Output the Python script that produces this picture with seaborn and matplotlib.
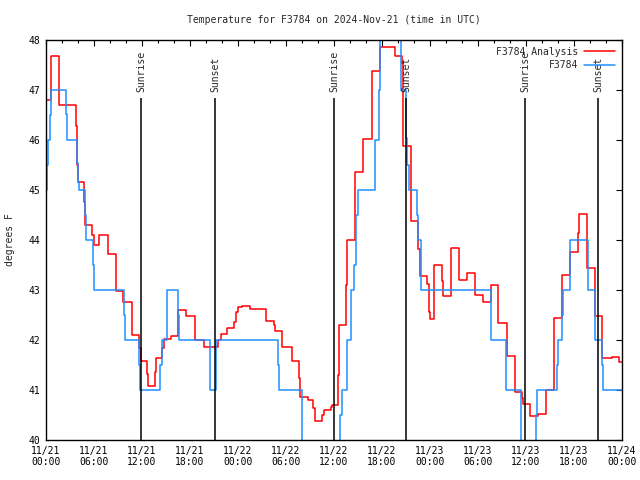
import matplotlib
matplotlib.use("Agg")
import matplotlib.pyplot as plt
import seaborn as sns

# hours since 11/21 00:00 UTC, temperature in degrees F (step changes)
analysis_hours = [0.0, 0.625, 1.625, 3.75, 3.875, 4.0, 4.75, 4.875, 5.75, 6.0,
                  6.625, 7.75, 8.75, 9.625, 10.75, 11.625, 11.875, 12.625, 12.75, 13.625,
                  13.75, 14.5, 14.75, 15.625, 16.5, 17.5, 18.625, 19.75, 21.5, 21.875,
                  22.625, 23.5, 23.75, 24.0, 24.5, 25.5, 27.5, 28.5, 28.625, 29.5,
                  30.75, 31.625, 31.75, 32.75, 33.375, 33.625, 34.5, 34.75, 35.625, 35.75,
                  36.5, 36.625, 37.5, 37.625, 38.625, 39.625, 40.75, 41.75, 43.625, 44.5,
                  44.625, 45.625, 46.5, 46.75, 47.625, 47.875, 48.0, 48.5, 49.5, 49.625,
                  50.625, 51.625, 52.625, 53.625, 54.625, 55.625, 56.5, 57.625, 58.625, 59.5,
                  59.625, 60.5, 61.5, 62.5, 63.5, 64.5, 65.5, 66.5, 66.625, 67.625,
                  68.625, 69.5, 70.75, 71.625, 72.0]
analysis_temps = [46.8, 47.68, 46.7, 46.28, 45.5, 45.16, 44.76, 44.3, 44.1, 43.9,
                  44.1, 43.72, 42.98, 42.76, 42.1, 41.84, 41.58, 41.32, 41.08, 41.36,
                  41.64, 41.84, 42.02, 42.08, 42.6, 42.48, 42.0, 41.86, 42.0, 42.12,
                  42.24, 42.36, 42.56, 42.66, 42.68, 42.62, 42.38, 42.3, 42.18, 41.86,
                  41.58, 41.24, 40.86, 40.8, 40.64, 40.38, 40.5, 40.6, 40.66, 40.7,
                  41.3, 42.3, 43.1, 44.0, 45.36, 46.02, 47.38, 47.86, 47.68, 47.54,
                  45.88, 44.38, 43.82, 43.28, 43.12, 42.56, 42.42, 43.5, 43.18, 42.88,
                  43.84, 43.2, 43.34, 42.9, 42.76, 43.1, 42.34, 41.68, 40.96, 40.84,
                  40.72, 40.48, 40.52, 41.0, 42.44, 43.3, 43.76, 44.14, 44.52, 43.44,
                  42.48, 41.64, 41.66, 41.56, 41.56]

obs_hours = [0.0, 0.125, 0.25, 0.5, 0.625, 2.5, 2.625, 3.875, 4.0, 4.125,
             4.875, 5.0, 5.875, 6.0, 9.75, 9.875, 11.625, 11.75, 14.25, 14.5,
             15.125, 16.5, 16.625, 20.5, 21.25, 29.0, 29.125, 32.0, 36.75, 37.0,
             37.625, 38.125, 38.5, 38.75, 39.0, 41.125, 41.625, 41.75, 44.375, 45.0,
             45.125, 45.375, 46.375, 46.5, 46.875, 55.625, 57.5, 59.375, 61.25, 61.375,
             63.875, 64.0, 64.5, 64.625, 65.5, 67.75, 68.625, 69.5, 69.625, 72.0]
obs_temps = [45.0, 45.5, 46.0, 46.5, 47.0, 46.52, 46.0, 45.54, 45.16, 45.0,
             44.5, 44.0, 43.5, 43.0, 42.5, 42.0, 41.5, 41.0, 41.5, 42.0,
             43.0, 42.5, 42.0, 41.0, 42.0, 41.5, 41.0, 39.0, 40.5, 41.0,
             42.0, 43.0, 43.5, 44.5, 45.0, 46.0, 47.0, 49.0, 47.0, 46.04,
             45.5, 45.0, 44.5, 44.0, 43.0, 42.0, 41.0, 39.0, 40.5, 41.0,
             41.5, 42.0, 42.5, 43.0, 44.0, 43.0, 42.0, 41.5, 41.0, 41.0]

sun_hours = [11.875, 21.125, 36.0, 45.0, 59.875, 69.0]
sun_labels = ["Sunrise", "Sunset", "Sunrise", "Sunset", "Sunrise", "Sunset"]

tick_hours = list(range(0, 73, 6))
tick_labels = ["11/21\n00:00", "11/21\n06:00", "11/21\n12:00", "11/21\n18:00",
               "11/22\n00:00", "11/22\n06:00", "11/22\n12:00", "11/22\n18:00",
               "11/23\n00:00", "11/23\n06:00", "11/23\n12:00", "11/23\n18:00",
               "11/24\n00:00"]

sns.set_style("white")
plt.rcParams["font.family"] = ["DejaVu Sans Mono", "DejaVu Sans"]
plt.rcParams["font.size"] = 7

fig, ax = plt.subplots(figsize=(6.4, 4.8), dpi=100)
fig.subplots_adjust(left=46 / 640, right=622 / 640, top=1 - 40 / 480, bottom=1 - 440 / 480)

sns.lineplot(x=analysis_hours, y=analysis_temps, ax=ax, color="#ff0000", lw=1.1,
             drawstyle="steps-post", estimator=None, sort=False, label="F3784 Analysis")
sns.lineplot(x=obs_hours, y=obs_temps, ax=ax, color="#1f8fff", lw=1.1,
             drawstyle="steps-post", estimator=None, sort=False, label="F3784")

# sunrise / sunset markers
ax.vlines(sun_hours, 40, 46.84, color="black", lw=1.1)
for h, lab in zip(sun_hours, sun_labels):
    ax.text(h, 46.96, lab, rotation=90, ha="center", va="bottom", fontsize=7)

ax.set_xlim(0, 72)
ax.set_ylim(40, 48)
ax.set_xticks(tick_hours)
ax.set_xticklabels(tick_labels)
ax.set_xticks(range(0, 73, 2), minor=True)
ax.set_yticks(range(40, 49))
ax.tick_params(which="both", direction="in", top=True, right=True, colors="black")
ax.tick_params(which="major", length=4, width=0.8, pad=4)
ax.tick_params(which="minor", length=2.5, width=0.8)
for sp in ax.spines.values():
    sp.set_color("black")
    sp.set_linewidth(1.0)

ax.set_title("Temperature for F3784 on 2024-Nov-21 (time in UTC)", fontsize=7, pad=12)
ax.set_ylabel("degrees F", fontsize=7, labelpad=10)
ax.set_xlabel("")

ax.legend(loc="upper right", frameon=False, markerfirst=False, alignment="right",
          handlelength=3.2, handletextpad=0.6, labelspacing=0.35, borderaxespad=0.3,
          fontsize=7)

fig.savefig("out.png", dpi=100)
